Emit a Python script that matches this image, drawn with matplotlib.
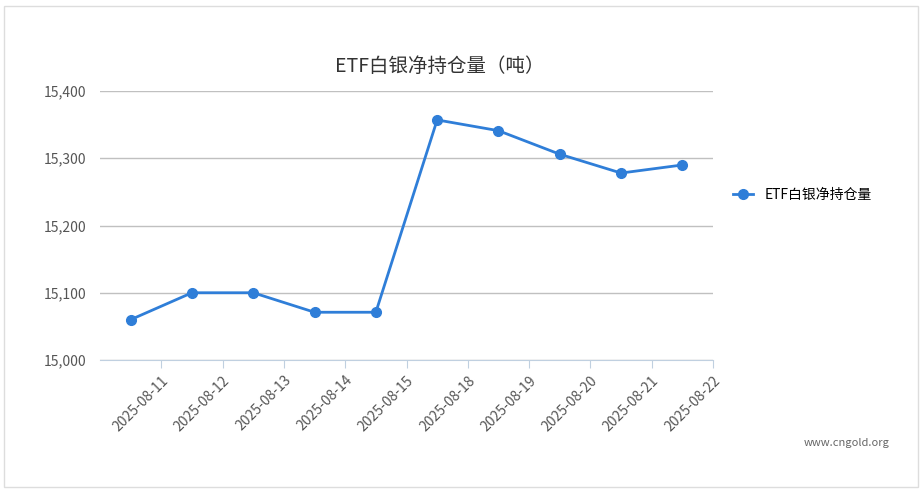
import matplotlib
matplotlib.use("Agg")
import matplotlib.pyplot as plt
from matplotlib.patches import Rectangle

plt.rcParams['font.family'] = ['Noto Sans CJK SC', 'DejaVu Sans']

dates = ["2025-08-11","2025-08-12","2025-08-13","2025-08-14","2025-08-15",
         "2025-08-18","2025-08-19","2025-08-20","2025-08-21","2025-08-22"]
values = [15060, 15100, 15100, 15071, 15071, 15357, 15341, 15306, 15278, 15290]
yticks = [15000, 15100, 15200, 15300, 15400]
series_name = "ETF白银净持仓量"
title = "ETF白银净持仓量（吨）"

fig = plt.figure(figsize=(9.24, 4.93), dpi=100)
fig.patches.append(Rectangle((0.004, 0.012), 0.99, 0.976, transform=fig.transFigure,
                             fill=False, edgecolor="#dddddd", lw=1))
ax = fig.add_axes([100/924, 1-360/493, 613/924, 269/493])
x = [i + 0.5 for i in range(len(dates))]
ax.plot(x, values, color="#2f7ed8", lw=2, marker="o", ms=7, label=series_name)
ax.set_xlim(0, len(dates))
ax.set_ylim(15000, 15400)
ax.set_yticks(yticks)
ax.set_yticklabels([f"{v:,}" for v in yticks], color="#555555", fontsize=10)
ax.set_xticks([i + 1 for i in range(len(dates))])
ax.set_xticklabels(dates, rotation=45, ha="right", rotation_mode="anchor", color="#555555", fontsize=10)
ax.grid(axis="y", color="#c0c0c0", lw=1)
ax.set_axisbelow(True)
for s in ["top", "right", "left"]:
    ax.spines[s].set_visible(False)
ax.spines["bottom"].set_color("#c0d0e0")
ax.tick_params(axis="y", length=0, pad=10)
ax.tick_params(axis="x", length=6, color="#c0d0e0")
fig.text(440/924, 1-66/493, title, ha="center", va="center", fontsize=14, color="#333333")
ax.legend(loc="center left", bbox_to_anchor=(720/924, 1-195/493), bbox_transform=fig.transFigure,
          frameon=False, fontsize=10, handlelength=1.5)
fig.text(890/924, 1-443/493, "www.cngold.org", ha="right", va="center", fontsize=8, color="#666666")
fig.savefig("out.png", dpi=100)
